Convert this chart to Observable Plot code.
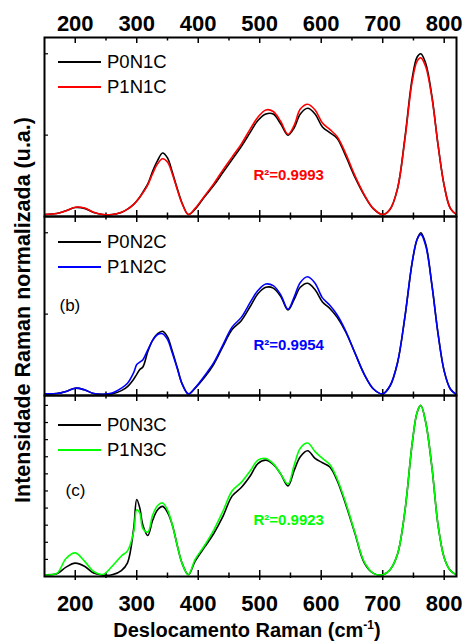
<!DOCTYPE html>
<html><head><meta charset="utf-8">
<script src="https://cdn.jsdelivr.net/npm/d3@7"></script>
<script src="https://cdn.jsdelivr.net/npm/@observablehq/plot@0.6"></script>
<style>
body{margin:0;background:#fff;font-family:Arial,"Liberation Sans",sans-serif;}
#wrap{position:relative;width:463px;height:644px;overflow:hidden;background:#fff;}
.panel{position:absolute;left:0;}
.leg{position:absolute;font-size:18.5px;line-height:18px;color:#000;white-space:nowrap;font-family:Arial,"Liberation Sans",sans-serif;}
.legline{position:absolute;height:0;border-top:2px solid;}
#ylab{position:absolute;left:23px;top:310px;transform:translate(-50%,-50%) rotate(-90deg);font-weight:bold;font-size:21.5px;white-space:nowrap;}
#xlab{position:absolute;left:247px;top:630px;transform:translate(-50%,-50%);font-weight:bold;font-size:20px;white-space:nowrap;}
#xlab sup{font-size:12px;vertical-align:8px;line-height:0;}
</style></head><body><div id="wrap"></div>
<script>
// Raman shift (cm-1)
const shift = [150,170,185,200,215,230,245,260,275,285,295,300,305,310,318,326,334,342,350,358,366,374,384,395,410,425,440,455,470,485,497,510,522,534,546,556,566,578,590,602,614,626,640,655,670,685,700,712,724,736,748,756,762,770,780,790,800,810,820];

const p0n1c = [0.012,0.018,0.035,0.055,0.05,0.025,0.012,0.012,0.025,0.045,
  0.075,0.095,0.12,0.15,0.2,0.28,0.345,0.39,0.36,0.27,
  0.17,0.08,0.012,0.045,0.12,0.19,0.27,0.35,0.43,0.52,
  0.59,0.63,0.63,0.57,0.5,0.545,0.63,0.665,0.63,0.55,
  0.515,0.48,0.37,0.24,0.13,0.047,0.012,0.045,0.17,0.48,
  0.85,0.98,1.0,0.94,0.74,0.44,0.19,0.05,0.012];
const p1n1c = [0.012,0.018,0.035,0.057,0.052,0.026,0.012,0.012,0.026,0.045,
  0.075,0.095,0.118,0.145,0.195,0.265,0.325,0.355,0.335,0.26,
  0.165,0.078,0.012,0.05,0.125,0.2,0.285,0.365,0.445,0.54,
  0.61,0.655,0.645,0.585,0.505,0.56,0.66,0.69,0.655,0.575,
  0.535,0.49,0.385,0.25,0.135,0.048,0.012,0.045,0.17,0.47,
  0.83,0.955,0.975,0.92,0.73,0.44,0.19,0.05,0.012];
const p0n2c = [0.01,0.012,0.025,0.045,0.035,0.012,0.008,0.01,0.03,0.055,
  0.1,0.13,0.16,0.175,0.27,0.34,0.38,0.395,0.36,0.27,
  0.17,0.07,0.01,0.045,0.11,0.19,0.3,0.405,0.46,0.55,
  0.625,0.665,0.66,0.61,0.525,0.59,0.665,0.69,0.65,0.575,
  0.535,0.48,0.39,0.26,0.13,0.04,0.01,0.06,0.2,0.48,
  0.82,0.96,1.0,0.93,0.68,0.38,0.15,0.04,0.005];
const p1n2c = [0.01,0.012,0.025,0.045,0.035,0.012,0.008,0.015,0.045,0.075,
  0.14,0.19,0.205,0.22,0.28,0.34,0.375,0.38,0.345,0.26,
  0.165,0.07,0.01,0.048,0.12,0.2,0.31,0.42,0.48,0.575,
  0.645,0.685,0.675,0.62,0.53,0.605,0.695,0.73,0.69,0.6,
  0.555,0.495,0.395,0.26,0.13,0.04,0.01,0.06,0.2,0.48,
  0.82,0.96,0.99,0.92,0.68,0.38,0.15,0.04,0.005];
const p0n3c = [0.01,0.016,0.055,0.078,0.06,0.02,0.008,0.01,0.035,0.08,
  0.28,0.45,0.4,0.3,0.24,0.33,0.39,0.41,0.375,0.3,
  0.18,0.075,0.01,0.09,0.17,0.25,0.35,0.47,0.52,0.59,
  0.66,0.68,0.655,0.6,0.53,0.62,0.7,0.735,0.69,0.665,
  0.64,0.56,0.42,0.25,0.08,0.018,0.01,0.04,0.13,0.38,
  0.78,0.96,1.0,0.9,0.64,0.3,0.11,0.035,0.01];
const p1n3c = [0.01,0.018,0.105,0.138,0.09,0.03,0.012,0.06,0.12,0.15,
  0.26,0.39,0.37,0.28,0.26,0.36,0.415,0.43,0.39,0.3,
  0.18,0.075,0.01,0.1,0.18,0.27,0.38,0.5,0.55,0.62,
  0.68,0.69,0.66,0.6,0.54,0.65,0.75,0.78,0.73,0.69,
  0.655,0.57,0.43,0.255,0.085,0.018,0.01,0.04,0.13,0.38,
  0.78,0.96,1.0,0.9,0.64,0.3,0.11,0.035,0.01];

const majorTicks = [200,300,400,500,600,700,800];
const minorTicks = [250,350,450,550,650,750];
const yTicksAB = [0.5,1.0];
const yTicksC = [0.1,0.2,0.3,0.4,0.5,0.6,0.7,0.8,0.9,1.0];

const W = 463, ML = 44, MR = 7, innerW = W - ML - MR;
const font = "Arial, 'Liberation Sans', sans-serif";

const panels = [
  {top:0, height:216, mt:37, mb:0, ymax:1.1, yt:yTicksAB, ref:p0n1c, alt:p1n1c,
   names:["P0N1C","P1N1C"], color:"#ff0000", r2:"R²=0.9993", r2dy:138, tag:null, legY:[62,87], topLabels:true},
  {top:216, height:179, mt:0, mb:0, ymax:1.1, yt:yTicksAB, ref:p0n2c, alt:p1n2c,
   names:["P0N2C","P1N2C"], color:"#0000ff", r2:"R²=0.9954", r2dy:129, tag:"(b)", tagdx:15, tagdy:89, legY:[242,267]},
  {top:395, height:249, mt:0, mb:68, ymax:1.058, yt:yTicksC, ref:p0n3c, alt:p1n3c,
   names:["P0N3C","P1N3C"], color:"#00ff00", r2:"R²=0.9923", r2dy:125, tag:"(c)", tagdx:21, tagdy:95, legY:[425,450], bottomLabels:true}
];

const wrap = document.getElementById("wrap");

for (const p of panels) {
  const innerH = p.height - p.mt - p.mb;
  const refRows = shift.map((s,i)=>({shift:s, v:p.ref[i]}));
  const altRows = shift.map((s,i)=>({shift:s, v:p.alt[i]}));
  const marks = [
    Plot.tickX(majorTicks, {x:d=>d, insetBottom: innerH - 6, stroke:"#000", strokeWidth:1.5}),
    Plot.tickX(minorTicks, {x:d=>d, insetBottom: innerH - 3.5, stroke:"#000", strokeWidth:1.5}),
    Plot.tickX(majorTicks, {x:d=>d, insetTop: innerH - 6, insetBottom: p.bottomLabels ? -4 : 0, stroke:"#000", strokeWidth:1.5}),
    Plot.tickX(minorTicks, {x:d=>d, insetTop: innerH - 3.5, insetBottom: p.bottomLabels ? -2 : 0, stroke:"#000", strokeWidth:1.5}),
    Plot.tickY(p.yt, {y:d=>d, insetRight: innerW - 4, stroke:"#000", strokeWidth:1.2}),
    Plot.line(refRows, {x:"shift", y:"v", stroke:"#000", strokeWidth:1.6, curve:"catmull-rom", clip:true}),
    Plot.line(altRows, {x:"shift", y:"v", stroke:p.color, strokeWidth:1.6, curve:"catmull-rom", clip:true}),
    Plot.text([p.r2], {text:d=>d, frameAnchor:"top-left", dx:209, dy:p.r2dy, textAnchor:"start", lineAnchor:"middle",
      fill:p.color, fontSize:15, fontWeight:"bold", fontFamily:font}),
    Plot.frame({stroke:"#000", strokeWidth:2})
  ];
  if (p.tag) marks.push(Plot.text([p.tag], {text:d=>d, frameAnchor:"top-left", dx:p.tagdx, dy:p.tagdy,
      textAnchor:"start", lineAnchor:"middle", fill:"#000", fontSize:17, fontFamily:font}));
  if (p.topLabels) marks.push(Plot.text(majorTicks, {x:d=>d, text:d=>String(d), frameAnchor:"top", dy:-14,
      lineAnchor:"middle", fill:"#000", fontSize:22, fontWeight:"bold", fontFamily:font}));
  if (p.bottomLabels) marks.push(Plot.text(majorTicks, {x:d=>d, text:d=>String(d), frameAnchor:"bottom", dy:27,
      lineAnchor:"middle", fill:"#000", fontSize:22, fontWeight:"bold", fontFamily:font}));

  const chart = Plot.plot({
    width: W, height: p.height,
    marginLeft: ML, marginRight: MR, marginTop: p.mt, marginBottom: p.mb,
    x: {domain:[150,820], axis:null},
    y: {domain:[0,p.ymax], axis:null},
    style: {background:"transparent", overflow:"visible", fontFamily: font},
    marks
  });
  chart.classList.add("panel");
  chart.style.position = "absolute";
  chart.style.top = p.top + "px";
  chart.style.left = "0px";
  chart.style.maxWidth = "none";
  wrap.appendChild(chart);

  [["#000", p.names[0], p.legY[0]], [p.color, p.names[1], p.legY[1]]].forEach(([c, name, y]) => {
    const ln = document.createElement("div");
    ln.className = "legline";
    ln.style.left = "58px"; ln.style.width = "43px"; ln.style.top = (y - 1) + "px";
    ln.style.borderTopColor = c;
    wrap.appendChild(ln);
    const tx = document.createElement("div");
    tx.className = "leg";
    tx.style.left = "107px"; tx.style.top = (y - 9) + "px";
    tx.textContent = name;
    wrap.appendChild(tx);
  });
}

const ylab = document.createElement("div");
ylab.id = "ylab";
ylab.textContent = "Intensidade Raman normalizada (u.a.)";
wrap.appendChild(ylab);
const xlab = document.createElement("div");
xlab.id = "xlab";
xlab.innerHTML = "Deslocamento Raman (cm<sup>-1</sup>)";
wrap.appendChild(xlab);
</script></body></html>
